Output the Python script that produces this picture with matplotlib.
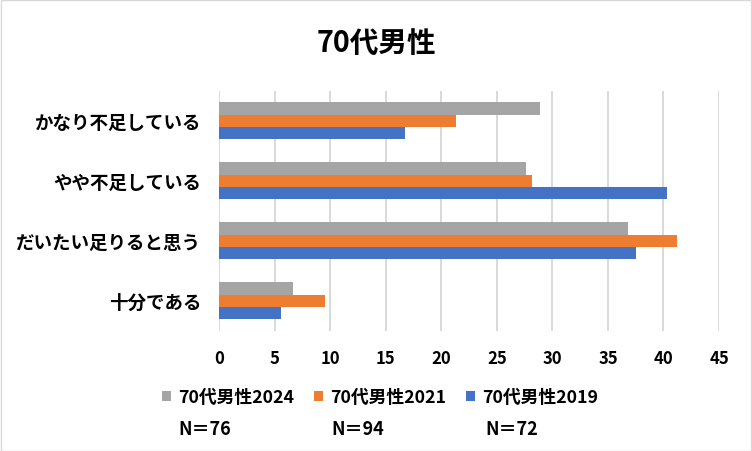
import matplotlib
matplotlib.use("Agg")
import matplotlib.pyplot as plt
from matplotlib.patches import Rectangle, Patch
import numpy as np

plt.rcParams['font.family'] = ['Noto Sans CJK JP', 'DejaVu Sans']

title = "70代男性"
categories = ["かなり不足している", "やや不足している", "だいたい足りると思う", "十分である"]
series_names = ["70代男性2024", "70代男性2021", "70代男性2019"]
values_2024 = [28.9, 27.6, 36.8, 6.6]
values_2021 = [21.3, 28.2, 41.2, 9.5]
values_2019 = [16.7, 40.3, 37.5, 5.6]
n_labels = ["N＝76", "N＝94", "N＝72"]
x_ticks = [0, 5, 10, 15, 20, 25, 30, 35, 40, 45]

colors = ["#A5A5A5", "#ED7D31", "#4472C4"]
W, H = 752, 452
fig = plt.figure(figsize=(W / 100, H / 100), dpi=100)
ax = fig.add_axes([219.3 / W, 1 - 331.7 / H, (719 - 219.3) / W, 240 / H])

y = np.arange(len(categories))
bh = 0.205
all_vals = [values_2024, values_2021, values_2019]
offsets = [-bh, 0, bh]
for vals, off, c, name in zip(all_vals, offsets, colors, series_names):
    ax.barh(y + off, vals, height=bh, color=c, label=name, zorder=3)

ax.set_xlim(0, 45)
ax.set_ylim(3.5, -0.5)
ax.set_xticks(x_ticks)
ax.set_xticklabels([str(t) for t in x_ticks], fontsize=12, fontweight='bold')
ax.set_yticks(y)
ax.set_yticklabels(categories, fontsize=13.3, fontweight='bold')
ax.tick_params(axis='both', length=0)
ax.tick_params(axis='x', pad=13)
ax.tick_params(axis='y', pad=13)
ax.grid(axis='x', color='#D9D9D9', linewidth=1.4, zorder=0)
for s in ax.spines.values():
    s.set_visible(False)

fig.text(376 / W, 1 - 42.5 / H, title, ha='center', va='center', fontsize=20.6, fontweight='bold')

handles = [Patch(facecolor=c) for c in colors]
leg = fig.legend(handles, series_names, loc='center left',
                 bbox_to_anchor=(162.3 / W, 1 - 398.5 / H), ncol=3, frameon=False,
                 prop={'size': 12.8, 'weight': 'bold'}, handlelength=0.5, handleheight=0.5,
                 handletextpad=0.38, columnspacing=1.15, borderpad=0, borderaxespad=0)

n_x = [178, 331, 485]
for nx, lab in zip(n_x, n_labels):
    fig.text(nx / W, 1 - 430 / H, lab, ha='left', va='center', fontsize=13, fontweight='bold')

fig.patches.append(Rectangle((0.5 / W, 0.5 / H), 1 - 1.5 / W, 1 - 1.5 / H, transform=fig.transFigure,
                             fill=False, edgecolor='#D9D9D9', linewidth=1.0))

fig.savefig("out.png", dpi=100)
